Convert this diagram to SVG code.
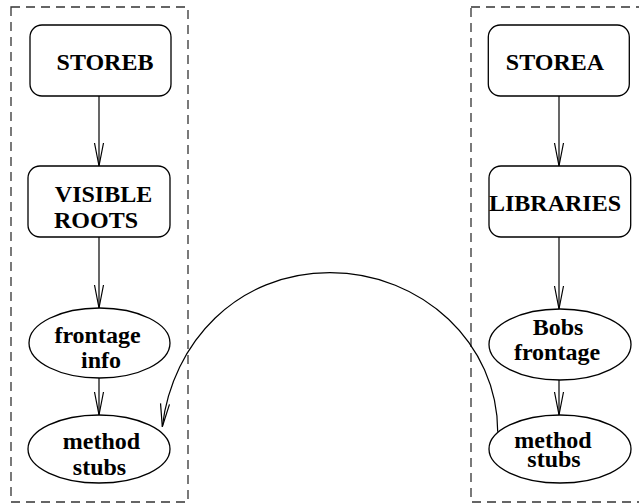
<svg xmlns="http://www.w3.org/2000/svg" width="639" height="503" viewBox="0 0 639 503">
<style>
.frame{fill:none;stroke:#333;stroke-width:1.3;stroke-dasharray:9 6}
.node{fill:#fff;stroke:#000;stroke-width:1.3}
.lbl{font-family:"Liberation Serif","Times New Roman",serif;font-weight:bold;font-size:24px;fill:#000;text-anchor:middle}
.edge{fill:none;stroke:#000;stroke-width:1.2}
</style>
<defs>
<marker id="v" markerUnits="userSpaceOnUse" markerWidth="26" markerHeight="12" refX="23" refY="4.5" orient="auto" overflow="visible">
<path d="M0,0 L23,4.5 L0,9" fill="none" stroke="#000" stroke-width="1.2"/>
</marker>
</defs>
<rect class="frame" x="11" y="7" width="177" height="495"/>
<rect class="frame" x="471" y="7" width="200" height="495"/>
<g id="connectors">
<line class="edge" x1="99" y1="96" x2="99" y2="166" marker-end="url(#v)"/>
<line class="edge" x1="99" y1="237" x2="99" y2="308" marker-end="url(#v)"/>
<line class="edge" x1="99" y1="378" x2="99" y2="415" marker-end="url(#v)"/>
<line class="edge" x1="559" y1="96" x2="559" y2="166" marker-end="url(#v)"/>
<line class="edge" x1="559" y1="237" x2="559" y2="309" marker-end="url(#v)"/>
<line class="edge" x1="559" y1="380" x2="559" y2="415" marker-end="url(#v)"/>
<path class="edge" d="M497.7,431.7 C497.7,343.9 422.6,272.7 330,272.7 C237.4,272.7 172.3,342.3 162.3,426.7" marker-end="url(#v)"/>
</g>
<g id="storeb">
<rect class="node" x="30" y="25" width="141" height="71" rx="12"/>
<text class="lbl" x="105" y="70">STOREB</text>
</g>
<g id="visible_roots">
<rect class="node" x="28" y="166" width="142" height="71" rx="12"/>
<text class="lbl" x="103.5" y="201.7">VISIBLE</text>
<text class="lbl" x="96" y="228.3">ROOTS</text>
</g>
<g id="frontage_info">
<ellipse class="node" cx="99.5" cy="343" rx="70.5" ry="35"/>
<text class="lbl" x="97.5" y="342.7">frontage</text>
<text class="lbl" x="101" y="368">info</text>
</g>
<g id="method_stubs_left">
<ellipse class="node" cx="99" cy="449" rx="71" ry="34"/>
<text class="lbl" x="101.5" y="449.3">method</text>
<text class="lbl" x="99.5" y="475">stubs</text>
</g>
<g id="storea">
<rect class="node" x="488.3" y="25" width="141" height="71" rx="12"/>
<text class="lbl" x="555" y="70">STOREA</text>
</g>
<g id="libraries">
<rect class="node" x="489" y="166" width="141.7" height="71" rx="12"/>
<text class="lbl" x="555" y="210.7">LIBRARIES</text>
</g>
<g id="bobs_frontage">
<ellipse class="node" cx="560" cy="344.5" rx="71" ry="35.5"/>
<text class="lbl" x="558" y="335">Bobs</text>
<text class="lbl" x="557" y="360">frontage</text>
</g>
<g id="method_stubs_right">
<ellipse class="node" cx="560" cy="449" rx="71" ry="34"/>
<text class="lbl" x="553" y="448">method</text>
<text class="lbl" x="554" y="467">stubs</text>
</g>
</svg>
